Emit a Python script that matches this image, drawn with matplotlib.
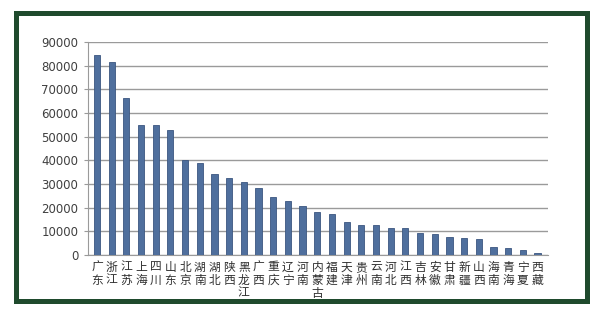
import matplotlib.pyplot as plt
import numpy as np
from matplotlib.patches import Rectangle

plt.rcParams['font.family'] = ['Noto Sans CJK SC', 'DejaVu Sans']

provinces = ['广东', '浙江', '江苏', '上海', '四川', '山东', '北京', '湖南', '湖北', '陕西',
             '黑龙江', '广西', '重庆', '辽宁', '河南', '内蒙古', '福建', '天津', '贵州', '云南',
             '河北', '江西', '吉林', '安徽', '甘肃', '新疆', '山西', '海南', '青海', '宁夏', '西藏']
values = [84300, 81500, 66500, 55000, 55000, 53000, 40000, 39000, 34200, 32400,
          31000, 28200, 24500, 22900, 20600, 18100, 17500, 13800, 12600, 12500,
          11600, 11400, 9300, 9000, 7700, 7100, 6900, 3500, 3000, 2300, 900]
yticks = [0, 10000, 20000, 30000, 40000, 50000, 60000, 70000, 80000, 90000]

fig = plt.figure(figsize=(6.05, 3.18), dpi=100)
fig.patch.set_facecolor('white')

# dark green frame round the chart
fig.patches.append(Rectangle((15.5 / 605, 1 - 300.5 / 318), 571 / 605, 288 / 318,
                             transform=fig.transFigure, fill=False,
                             edgecolor='#1f4a2d', linewidth=3.6))

ax = fig.add_axes([0.1455, 0.198, 0.760, 0.670])
x = np.arange(len(provinces))
ax.bar(x, values, width=0.42, color='#4f6f9d', edgecolor='#3b5680', linewidth=0.6, zorder=3)

ax.set_ylim(0, 90000)
ax.set_xlim(-0.61, 30.7)
ax.set_yticks(yticks)
ax.set_yticklabels([str(v) for v in yticks], fontsize=8.5, color='#404040', family='DejaVu Sans')
ax.yaxis.grid(True, color='#9a9a9a', linewidth=1.0, zorder=0)
ax.set_xticks(x)
ax.set_xticklabels(['\n'.join(p) for p in provinces], fontsize=8.5, color='#303030',
                   linespacing=1.0, va='top')
ax.tick_params(axis='x', length=0, pad=4)
ax.tick_params(axis='y', length=3, color='#9a9a9a', pad=4)
for s in ['top', 'right']:
    ax.spines[s].set_visible(False)
ax.spines['left'].set_color('#9a9a9a')
ax.spines['bottom'].set_color('#9a9a9a')
ax.set_facecolor('white')

fig.savefig('out.png', dpi=100)
